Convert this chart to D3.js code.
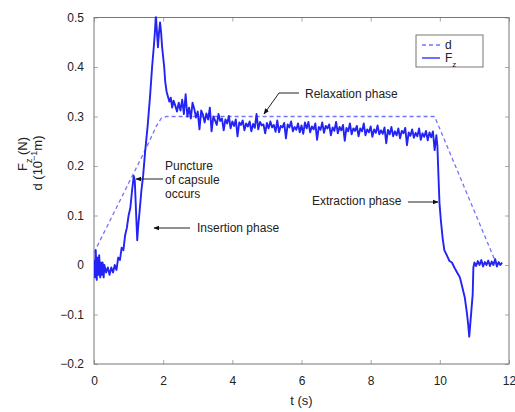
<!DOCTYPE html>
<html>
<head>
<meta charset="utf-8">
<script src="https://cdn.jsdelivr.net/npm/d3@7"></script>
<style>
  body { margin: 0; background: #fff; }
  svg text { font-family: "Liberation Sans", Arial, sans-serif; fill: #222; }
</style>
</head>
<body>
<div id="chart"></div>
<script>
// axis ticks
const xTicks = [0, 2, 4, 6, 8, 10, 12];
const yTicks = [-0.2, -0.1, 0, 0.1, 0.2, 0.3, 0.4, 0.5];

// displacement d (dashed)
const dSamples = [
  [0, 0.025], [0.5, 0.095], [1.0, 0.165], [1.5, 0.235], [1.8, 0.28],
  [1.95, 0.297], [2.1, 0.3], [9.85, 0.3], [11.65, 0.0]
];

// force Fz
const fzInsertion = [
  [0.00, 0.01], [0.03, -0.025], [0.05, 0.03], [0.08, -0.03], [0.10, 0.015],
  [0.13, -0.02], [0.15, 0.02], [0.18, -0.025], [0.20, 0.005], [0.23, -0.02],
  [0.25, 0.005], [0.28, -0.025], [0.30, 0.0], [0.35, -0.015], [0.40, -0.005],
  [0.45, -0.02], [0.50, -0.005], [0.55, -0.015], [0.60, 0.0], [0.65, -0.01],
  [0.70, 0.015], [0.75, 0.01], [0.80, 0.035], [0.85, 0.03], [0.90, 0.06],
  [0.95, 0.075], [1.00, 0.10], [1.05, 0.115], [1.10, 0.15], [1.15, 0.18],
  [1.18, 0.17], [1.22, 0.10], [1.25, 0.05], [1.28, 0.08], [1.32, 0.11],
  [1.37, 0.15], [1.42, 0.18], [1.48, 0.23], [1.55, 0.28], [1.62, 0.34],
  [1.68, 0.40], [1.74, 0.45], [1.76, 0.47], [1.79, 0.505], [1.82, 0.47],
  [1.85, 0.44], [1.88, 0.47], [1.91, 0.49], [1.94, 0.47], [1.97, 0.44],
  [2.00, 0.42], [2.03, 0.40], [2.06, 0.37], [2.10, 0.35], [2.14, 0.34],
  [2.18, 0.33], [2.22, 0.338], [2.26, 0.318], [2.30, 0.332], [2.35, 0.322],
  [2.40, 0.31], [2.45, 0.328], [2.50, 0.312]
];

const fzRelaxation = [
  [2.55, 0.334], [2.60, 0.305], [2.65, 0.345], [2.70, 0.300], [2.75, 0.318],
  [2.80, 0.296], [2.85, 0.328], [2.90, 0.315], [2.95, 0.298], [3.00, 0.310],
  [3.05, 0.274], [3.10, 0.312], [3.15, 0.304], [3.20, 0.288], [3.25, 0.306],
  [3.30, 0.294], [3.35, 0.318], [3.40, 0.270], [3.45, 0.300], [3.50, 0.292],
  [3.55, 0.283], [3.60, 0.305], [3.65, 0.291], [3.70, 0.296], [3.75, 0.272],
  [3.80, 0.294], [3.85, 0.286], [3.90, 0.301], [3.95, 0.276], [4.00, 0.290],
  [4.05, 0.281], [4.10, 0.294], [4.15, 0.260], [4.20, 0.288], [4.25, 0.283],
  [4.30, 0.292], [4.35, 0.272], [4.40, 0.286], [4.45, 0.280], [4.50, 0.290],
  [4.55, 0.270], [4.60, 0.285], [4.65, 0.277], [4.70, 0.305], [4.75, 0.274],
  [4.80, 0.289], [4.85, 0.282], [4.90, 0.284], [4.95, 0.266], [5.00, 0.287],
  [5.05, 0.276], [5.10, 0.290], [5.15, 0.278], [5.20, 0.283], [5.25, 0.269],
  [5.30, 0.292], [5.35, 0.268], [5.40, 0.281], [5.45, 0.278], [5.50, 0.287],
  [5.55, 0.256], [5.60, 0.284], [5.65, 0.278], [5.70, 0.290], [5.75, 0.270],
  [5.80, 0.279], [5.85, 0.273], [5.90, 0.286], [5.95, 0.268], [6.00, 0.282],
  [6.05, 0.265], [6.10, 0.288], [6.15, 0.276], [6.20, 0.289], [6.25, 0.268],
  [6.30, 0.280], [6.35, 0.274], [6.40, 0.286], [6.45, 0.253], [6.50, 0.279],
  [6.55, 0.273], [6.60, 0.288], [6.65, 0.267], [6.70, 0.281], [6.75, 0.276],
  [6.80, 0.284], [6.85, 0.262], [6.90, 0.278], [6.95, 0.271], [7.00, 0.289],
  [7.05, 0.266], [7.10, 0.279], [7.15, 0.272], [7.20, 0.283], [7.25, 0.251],
  [7.30, 0.277], [7.35, 0.270], [7.40, 0.286], [7.45, 0.264], [7.50, 0.276],
  [7.55, 0.271], [7.60, 0.281], [7.65, 0.260], [7.70, 0.276], [7.75, 0.270],
  [7.80, 0.286], [7.85, 0.262], [7.90, 0.274], [7.95, 0.268], [8.00, 0.280],
  [8.05, 0.259], [8.10, 0.274], [8.15, 0.267], [8.20, 0.282], [8.25, 0.264],
  [8.30, 0.272], [8.35, 0.265], [8.40, 0.278], [8.45, 0.246], [8.50, 0.273],
  [8.55, 0.264], [8.60, 0.279], [8.65, 0.260], [8.70, 0.270], [8.75, 0.262],
  [8.80, 0.276], [8.85, 0.256], [8.90, 0.271], [8.95, 0.266], [9.00, 0.277],
  [9.05, 0.242], [9.10, 0.268], [9.15, 0.261], [9.20, 0.274], [9.25, 0.257],
  [9.30, 0.267], [9.35, 0.260], [9.40, 0.276], [9.45, 0.253], [9.50, 0.266],
  [9.55, 0.259], [9.60, 0.271], [9.65, 0.252], [9.70, 0.268], [9.75, 0.258],
  [9.80, 0.270], [9.85, 0.232], [9.90, 0.262]
];

const fzExtraction = [
  [9.93, 0.240], [9.96, 0.180], [9.99, 0.125], [10.03, 0.09], [10.08, 0.055],
  [10.13, 0.03], [10.20, 0.02], [10.28, 0.008], [10.35, 0.005], [10.42, -0.005],
  [10.50, -0.015], [10.58, -0.025], [10.65, -0.045], [10.72, -0.065], [10.78, -0.095],
  [10.82, -0.12], [10.85, -0.145], [10.88, -0.12], [10.92, -0.085], [10.95, -0.06],
  [10.97, -0.005], [11.00, 0.005], [11.05, -0.002], [11.10, 0.008], [11.15, 0.0],
  [11.20, 0.01], [11.25, -0.003], [11.30, 0.006], [11.35, 0.0], [11.40, 0.009],
  [11.45, -0.002], [11.50, 0.007], [11.55, 0.0], [11.60, 0.012], [11.65, -0.003],
  [11.70, 0.006], [11.75, 0.0], [11.80, 0.005]
];

const fzSamples = fzInsertion.concat(fzRelaxation, fzExtraction);

const width = 515, height = 412;
const margin = { top: 17.5, right: 6, bottom: 48, left: 94 };

const svg = d3.select('#chart').append('svg')
  .attr('width', width)
  .attr('height', height);

const x = d3.scaleLinear().domain([0, 12]).range([margin.left, width - margin.right]);
const y = d3.scaleLinear().domain([-0.2, 0.5]).range([height - margin.bottom, margin.top]);

svg.append('defs').append('clipPath').attr('id', 'plotclip')
  .append('rect')
  .attr('x', margin.left).attr('y', margin.top - 1)
  .attr('width', x(12) - x(0)).attr('height', y(-0.2) - y(0.5) + 2);

// axes: ticks inward, on all sides
const axisStyle = g => {
  g.select('.domain').remove();
  g.selectAll('.tick line').attr('stroke', '#aaa');
  g.selectAll('.tick text').style('font-size', '12px').attr('fill', '#222');
};

svg.append('g')
  .attr('transform', `translate(0,${y(-0.2)})`)
  .call(d3.axisBottom(x).tickValues(xTicks).tickSizeInner(-4).tickSizeOuter(0).tickPadding(12)
    .tickFormat(d3.format('d')))
  .call(axisStyle);

svg.append('g')
  .attr('transform', `translate(0,${y(0.5)})`)
  .call(d3.axisTop(x).tickValues(xTicks).tickSizeInner(-4).tickSizeOuter(0).tickFormat(''))
  .call(axisStyle);

svg.append('g')
  .attr('transform', `translate(${x(0)},0)`)
  .call(d3.axisLeft(y).tickValues(yTicks).tickSizeInner(-4).tickSizeOuter(0).tickPadding(10)
    .tickFormat(d => d === 0 ? '0' : d3.format('.1f')(d)))
  .call(axisStyle);

svg.append('g')
  .attr('transform', `translate(${x(12)},0)`)
  .call(d3.axisRight(y).tickValues(yTicks).tickSizeInner(-4).tickSizeOuter(0).tickFormat(''))
  .call(axisStyle);

// frame
svg.append('rect')
  .attr('x', x(0)).attr('y', y(0.5))
  .attr('width', x(12) - x(0)).attr('height', y(-0.2) - y(0.5))
  .attr('fill', 'none').attr('stroke', '#777').attr('stroke-width', 1);

const line = d3.line().x(d => x(d[0])).y(d => y(d[1]));

const plot = svg.append('g').attr('clip-path', 'url(#plotclip)');

plot.append('path')
  .datum(dSamples)
  .attr('d', line)
  .attr('fill', 'none')
  .attr('stroke', '#7373ff')
  .attr('stroke-width', 1.3)
  .attr('stroke-dasharray', '4,3');

plot.append('path')
  .datum(fzSamples)
  .attr('d', line)
  .attr('fill', 'none')
  .attr('stroke', '#2323f5')
  .attr('stroke-width', 1.9)
  .attr('stroke-linejoin', 'round');

// annotations
svg.append('defs').append('marker')
  .attr('id', 'arrow')
  .attr('viewBox', '0 0 10 10')
  .attr('refX', 9).attr('refY', 5)
  .attr('markerWidth', 6).attr('markerHeight', 6)
  .attr('orient', 'auto-start-reverse')
  .append('path').attr('d', 'M0,1 L10,5 L0,9 z').attr('fill', '#111');

const note = svg.append('g').style('font-size', '12px');

const arrowLine = pts => note.append('polyline')
  .attr('points', pts.map(p => p.join(',')).join(' '))
  .attr('fill', 'none').attr('stroke', '#222').attr('stroke-width', 1)
  .attr('marker-end', 'url(#arrow)');

note.append('text').attr('x', 305).attr('y', 98).text('Relaxation phase');
arrowLine([[299, 93], [279, 93], [264, 114]]);

const punct = note.append('text').attr('x', 165).attr('y', 170);
['Puncture', 'of capsule', 'occurs'].forEach((s, i) =>
  punct.append('tspan').attr('x', 165).attr('dy', i === 0 ? 0 : 14).text(s));
arrowLine([[163, 179], [136, 179]]);

note.append('text').attr('x', 197).attr('y', 232).text('Insertion phase');
arrowLine([[190, 228], [154, 228]]);

note.append('text').attr('x', 312).attr('y', 205).text('Extraction phase');
arrowLine([[408, 202], [438, 202]]);

// axis titles
svg.append('text')
  .attr('x', x(6)).attr('y', 405)
  .attr('text-anchor', 'middle')
  .style('font-size', '13px')
  .text('t (s)');

const yt1 = svg.append('text')
  .attr('transform', 'translate(27,154) rotate(-90)')
  .attr('text-anchor', 'middle')
  .style('font-size', '13px');
yt1.append('tspan').text('F');
yt1.append('tspan').attr('baseline-shift', 'sub').style('font-size', '9px').text('z');
yt1.append('tspan').text(' (N)');

const yt2 = svg.append('text')
  .attr('transform', 'translate(42,163) rotate(-90)')
  .attr('text-anchor', 'middle')
  .style('font-size', '13px');
yt2.append('tspan').text('d (10');
yt2.append('tspan').attr('baseline-shift', 'super').style('font-size', '9px').text('\u22121');
yt2.append('tspan').text('m)');

// legend
const lg = svg.append('g').attr('transform', 'translate(416,35)');
lg.append('rect').attr('width', 67).attr('height', 32)
  .attr('fill', '#fff').attr('stroke', '#777');
lg.append('line').attr('x1', 6).attr('x2', 24).attr('y1', 10).attr('y2', 10)
  .attr('stroke', '#7373ff').attr('stroke-width', 1.3).attr('stroke-dasharray', '4,3');
lg.append('text').attr('x', 29).attr('y', 14).style('font-size', '12px').text('d');
lg.append('line').attr('x1', 6).attr('x2', 24).attr('y1', 23).attr('y2', 23)
  .attr('stroke', '#2323f5').attr('stroke-width', 1.3);
const lgF = lg.append('text').attr('x', 29).attr('y', 27).style('font-size', '12px');
lgF.append('tspan').text('F');
lgF.append('tspan').attr('baseline-shift', 'sub').style('font-size', '8px').text('z');
</script>
</body>
</html>
